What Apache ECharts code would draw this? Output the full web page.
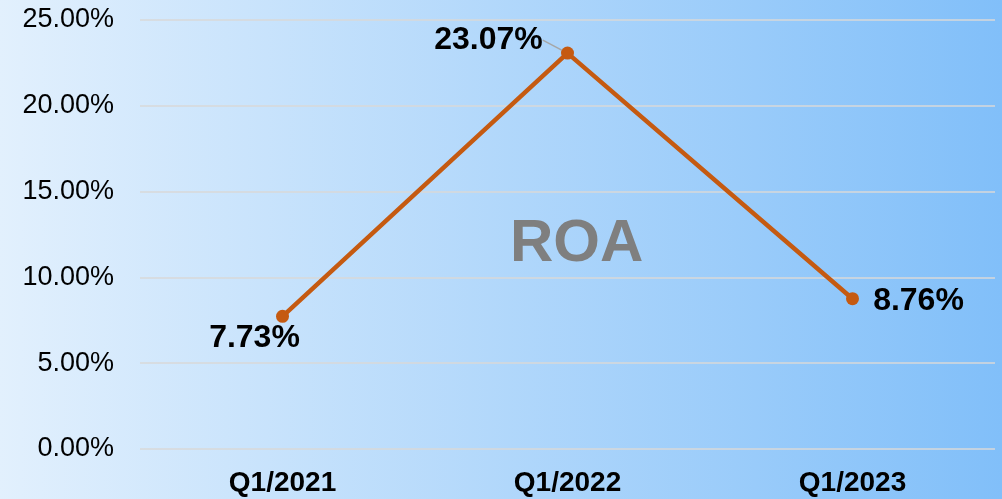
<!DOCTYPE html>
<html>
<head>
<meta charset="utf-8">
<script src="https://cdn.jsdelivr.net/npm/echarts@6/dist/echarts.min.js"></script>
<style>
  html, body { margin: 0; padding: 0; }
  #chart { width: 1002px; height: 499px; }
</style>
</head>
<body>
<div id="chart"></div>
<script>
// data
const categories = ['Q1/2021', 'Q1/2022', 'Q1/2023'];
const roaValues = [7.73, 23.07, 8.76];
const yTicks = [0, 5, 10, 15, 20, 25];

const labelOffsets = [[-28, 22], [-79, -13], [66, 2]];

const chart = echarts.init(document.getElementById('chart'));

chart.setOption({
  backgroundColor: new echarts.graphic.LinearGradient(0, 0, 1, 0, [
    { offset: 0, color: '#e2f0fd' },
    { offset: 1, color: '#81bff9' }
  ]),
  title: {
    text: 'ROA',
    left: 505,
    top: 209,
    textStyle: {
      color: '#7f7f7f',
      fontSize: 60,
      fontWeight: 'bold',
      fontFamily: 'Liberation Sans'
    }
  },
  grid: {
    left: 140,
    right: 7,
    top: 20,
    bottom: 50
  },
  xAxis: {
    type: 'category',
    data: categories,
    axisLine: { show: false },
    axisTick: { show: false },
    axisLabel: {
      color: '#000',
      fontSize: 28,
      fontWeight: 'bold',
      fontFamily: 'Liberation Sans',
      margin: 20
    }
  },
  yAxis: {
    type: 'value',
    min: yTicks[0],
    max: yTicks[yTicks.length - 1],
    interval: 5,
    axisLine: { show: false },
    axisTick: { show: false },
    axisLabel: {
      color: '#000',
      fontSize: 27,
      fontFamily: 'Liberation Sans',
      margin: 26,
      formatter: v => v.toFixed(2) + '%'
    },
    splitLine: {
      lineStyle: { color: '#d9d9d9', width: 1.5 }
    }
  },
  series: [
    {
      type: 'line',
      data: roaValues.map((v, i) => ({
        value: v,
        label: { offset: labelOffsets[i] },
        labelLine: i === 1 ? {
          show: true,
          lineStyle: { color: '#a6a6a6', width: 1.5 }
        } : { show: false }
      })),
      symbol: 'circle',
      symbolSize: 13,
      lineStyle: { color: '#c55a11', width: 4.5 },
      itemStyle: { color: '#c55a11' },
      label: {
        show: true,
        position: 'inside',
        color: '#000',
        fontSize: 32,
        fontWeight: 'bold',
        fontFamily: 'Liberation Sans',
        formatter: p => p.value.toFixed(2) + '%'
      }
    }
  ]
});
</script>
</body>
</html>
